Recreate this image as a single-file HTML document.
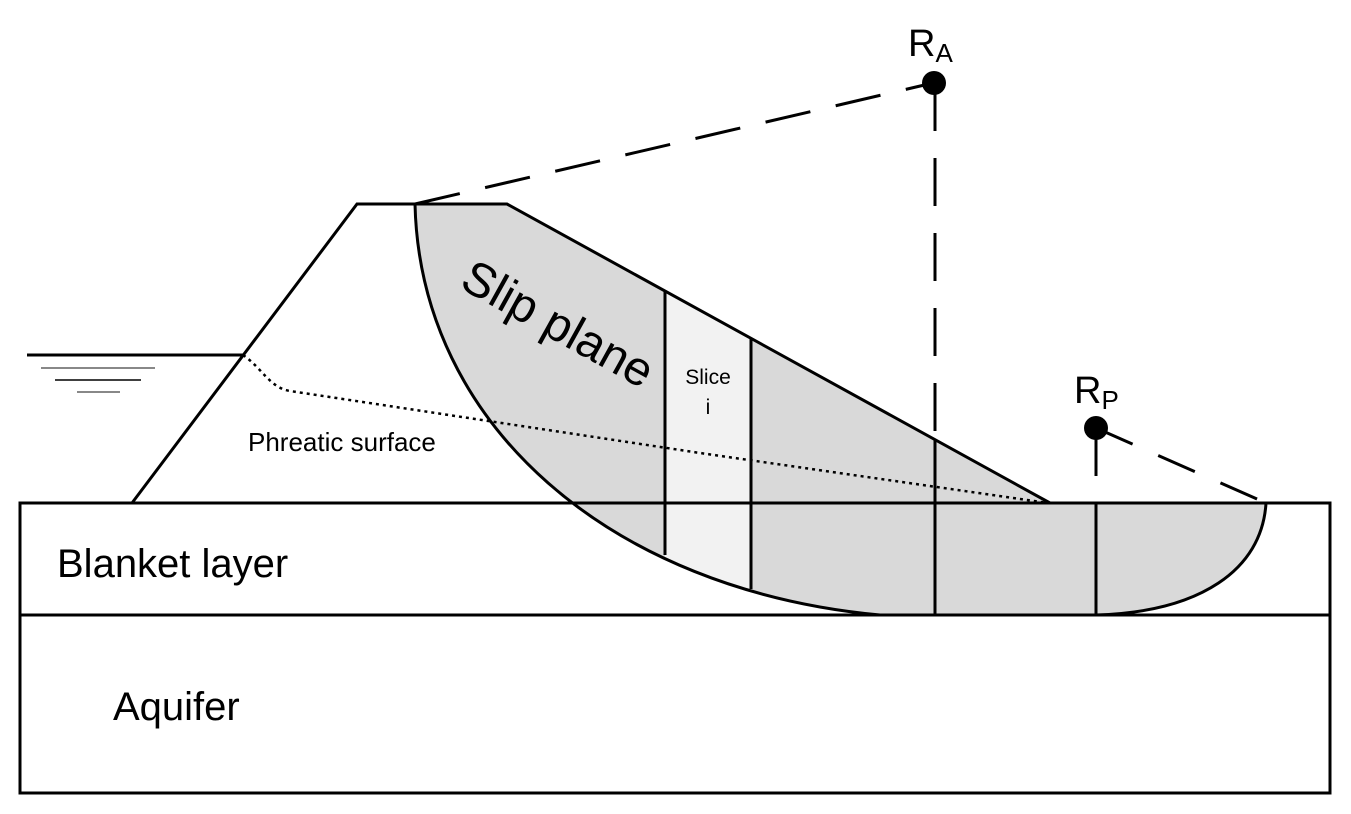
<!DOCTYPE html>
<html><head><meta charset="utf-8"><style>
html,body{margin:0;padding:0;background:#fff;}
svg{display:block;}
text{font-family:"Liberation Sans",sans-serif;fill:#000;}
</style></head><body>
<svg width="1351" height="814" viewBox="0 0 1351 814" xmlns="http://www.w3.org/2000/svg">
<defs>
<clipPath id="slip"><path d="M415,204 L507,204 L1050,503 L1266,503 C1262,570 1200,612 1096,615 L880,615 C610,590 420,425 415,204 Z"/></clipPath>
</defs>
<path d="M415,204 L507,204 L1050,503 L1266,503 C1262,570 1200,612 1096,615 L880,615 C610,590 420,425 415,204 Z" fill="#d9d9d9"/>
<rect x="665" y="200" width="86" height="420" fill="#f2f2f2" clip-path="url(#slip)"/>
<rect x="20" y="503" width="1310" height="290" fill="none" stroke="#000" stroke-width="3"/>
<line x1="20" y1="615" x2="1330" y2="615" stroke="#000" stroke-width="3"/>
<polyline points="132,503 357,204 507,204 1050,503" fill="none" stroke="#000" stroke-width="3"/>
<path d="M415,204 C420,425 610,590 880,615 L1096,615 C1200,612 1262,570 1266,503" fill="none" stroke="#000" stroke-width="3"/>
<line x1="665" y1="290" x2="665" y2="555" stroke="#000" stroke-width="3"/>
<line x1="751" y1="339" x2="751" y2="589" stroke="#000" stroke-width="3"/>
<line x1="935" y1="440" x2="935" y2="615" stroke="#000" stroke-width="3"/>
<line x1="1096" y1="503" x2="1096" y2="615" stroke="#000" stroke-width="3"/>
<line x1="27" y1="355" x2="243" y2="355" stroke="#000" stroke-width="3"/>
<line x1="41" y1="368" x2="155" y2="368" stroke="#888" stroke-width="2"/>
<line x1="55" y1="380" x2="141" y2="380" stroke="#000" stroke-width="1.5"/>
<line x1="77" y1="392" x2="120" y2="392" stroke="#888" stroke-width="2"/>
<path d="M243,355 C262,368 270,388 290,391 L700,453 L1048,503" fill="none" stroke="#000" stroke-width="2.5" stroke-dasharray="3 4"/>
<line x1="415" y1="204" x2="933" y2="83" stroke="#000" stroke-width="3" stroke-dasharray="46 26"/>
<line x1="935" y1="83" x2="935" y2="440" stroke="#000" stroke-width="3" stroke-dasharray="48 27"/>
<circle cx="934" cy="83" r="12" fill="#000"/>
<text x="908" y="56" font-size="38">R<tspan font-size="26" dy="6">A</tspan></text>
<line x1="1096" y1="428" x2="1266" y2="503" stroke="#000" stroke-width="3" stroke-dasharray="40 28"/>
<line x1="1096" y1="428" x2="1096" y2="476" stroke="#000" stroke-width="3"/>
<circle cx="1096" cy="428" r="12" fill="#000"/>
<text x="1074" y="403" font-size="38">R<tspan font-size="26" dy="6">P</tspan></text>
<text x="248" y="451" font-size="26">Phreatic surface</text>
<text x="57" y="577" font-size="40">Blanket layer</text>
<text x="113" y="720" font-size="40">Aquifer</text>
<text x="708" y="384" font-size="21" text-anchor="middle">Slice</text>
<text x="708" y="414" font-size="21" text-anchor="middle">i</text>
<text x="458" y="287" font-size="48" transform="rotate(29 458 287)">Slip plane</text>
</svg>
</body></html>
